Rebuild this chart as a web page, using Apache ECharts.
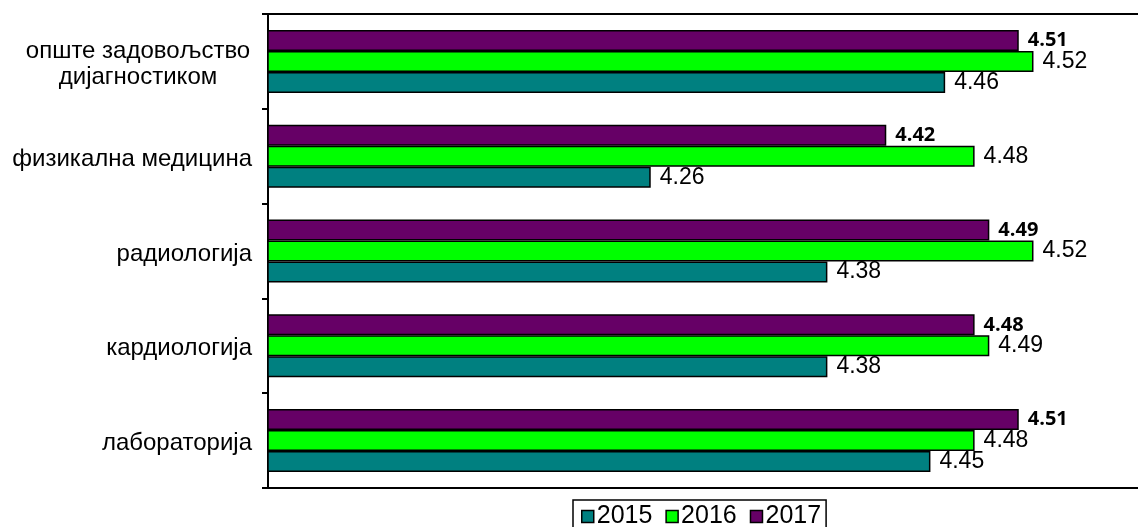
<!DOCTYPE html>
<html>
<head>
<meta charset="utf-8">
<script src="https://cdn.jsdelivr.net/npm/echarts@6/dist/echarts.min.js"></script>
<style>
  html, body { margin: 0; padding: 0; background: #fff; }
  #chart { width: 1138px; height: 527px; }
</style>
</head>
<body>
<div id="chart"></div>
<script>
var categories = ['лабораторија', 'кардиологија', 'радиологија', 'физикална медицина', 'опште задовољство\nдијагностиком'];
var years = ['2015', '2016', '2017'];
var values2015 = [4.45, 4.38, 4.38, 4.26, 4.46];
var values2016 = [4.48, 4.49, 4.52, 4.48, 4.52];
var values2017 = [4.51, 4.48, 4.49, 4.42, 4.51];

var myChart = echarts.init(document.getElementById('chart'));

function labelFmt(p) {
    return p.value.toFixed(2);
}

var plainLabel = {
    show: true,
    position: 'right',
    distance: 9,
    color: '#000',
    fontFamily: 'Liberation Sans, Arial, sans-serif',
    fontSize: 23,
    formatter: labelFmt
};

var option = {
    animation: false,
    backgroundColor: '#fff',
    grid: {
        left: 268,
        right: 0,
        top: 14,
        bottom: 39
    },
    legend: {
        data: years,
        left: 573,
        top: 500,
        orient: 'horizontal',
        borderColor: '#000',
        borderWidth: 1.5,
        padding: [4, 5, 4, 8],
        itemGap: 13,
        itemWidth: 12,
        itemHeight: 12,
        icon: 'rect',
        itemStyle: { borderColor: '#000', borderWidth: 1.5 },
        textStyle: {
            fontFamily: 'Liberation Sans, Arial, sans-serif',
            fontSize: 25,
            color: '#000',
            padding: [0, 0, 0, -2]
        }
    },
    xAxis: [{
        type: 'value',
        min: 4,
        max: 4.591,
        position: 'bottom',
        axisLine: { show: true, onZero: false, lineStyle: { color: '#000', width: 2 } },
        axisTick: { show: false },
        axisLabel: { show: false },
        splitLine: { show: false }
    }, {
        type: 'value',
        min: 4,
        max: 4.591,
        position: 'top',
        axisLine: { show: true, onZero: false, lineStyle: { color: '#000', width: 2 } },
        axisTick: { show: false },
        axisLabel: { show: false },
        splitLine: { show: false }
    }],
    yAxis: {
        type: 'category',
        data: categories,
        axisLine: { show: true, lineStyle: { color: '#000', width: 2 } },
        axisTick: { show: true, length: 6, lineStyle: { color: '#000', width: 2 } },
        axisLabel: {
            margin: 16,
            padding: [6, 0, 0, 0],
            color: '#000',
            fontFamily: 'Liberation Sans, Arial, sans-serif',
            fontSize: 24,
            lineHeight: 26,
            formatter: function (v) {
                if (v.indexOf('\n') < 0) return v;
                return v.split('\n').map(function (s) { return '{c|' + s + '}'; }).join('\n');
            },
            rich: {
                c: {
                    width: 228,
                    align: 'center',
                    fontFamily: 'Liberation Sans, Arial, sans-serif',
                    fontSize: 24,
                    lineHeight: 26,
                    color: '#000'
                }
            }
        }
    },
    series: [{
        name: '2017',
        type: 'bar',
        data: values2017,
        barWidth: 21,
        barGap: '0%',
        itemStyle: { color: '#660066', borderColor: '#000', borderWidth: 1.5 },
        label: {
            show: true,
            position: 'right',
            distance: 9,
            color: '#000',
            fontFamily: 'Open Sans, sans-serif',
            fontWeight: 'bold',
            fontSize: 20,
            formatter: labelFmt
        }
    }, {
        name: '2016',
        type: 'bar',
        data: values2016,
        barWidth: 21,
        barGap: '0%',
        itemStyle: { color: '#00ff00', borderColor: '#000', borderWidth: 1.5 },
        label: plainLabel
    }, {
        name: '2015',
        type: 'bar',
        data: values2015,
        barWidth: 21,
        barGap: '0%',
        itemStyle: { color: '#008080', borderColor: '#000', borderWidth: 1.5 },
        label: plainLabel
    }]
};
myChart.setOption(option);
</script>
</body>
</html>
